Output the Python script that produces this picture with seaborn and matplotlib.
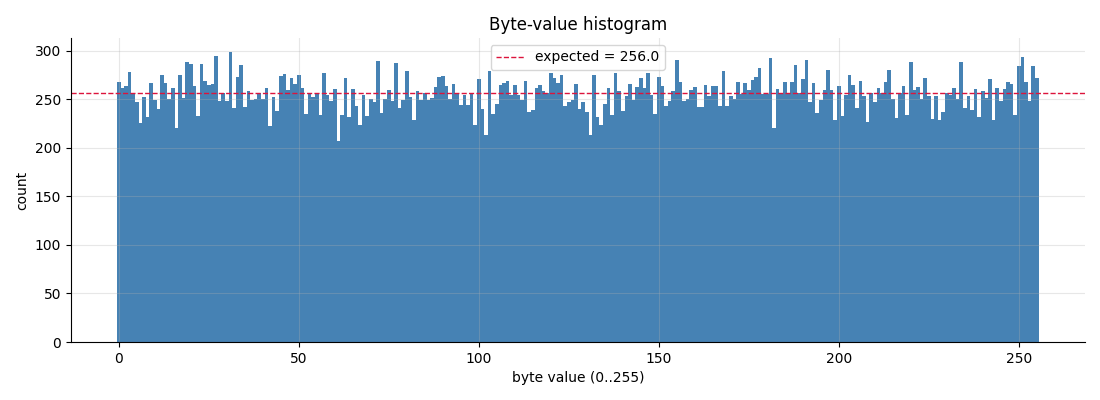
import numpy as np
import matplotlib
matplotlib.use("Agg")
import matplotlib.pyplot as plt
import seaborn as sns

# byte values 0..255 and how often each one showed up
byte_values = list(range(256))
counts = [
    268, 261, 263, 278, 256, 247, 225, 252, 232, 267, 249, 240, 275, 267, 250, 261,
    220, 275, 251, 288, 286, 263, 233, 286, 269, 265, 266, 294, 248, 256, 248, 298,
    241, 273, 285, 242, 258, 249, 250, 256, 250, 261, 222, 252, 238, 274, 276, 259,
    272, 266, 275, 261, 235, 255, 252, 255, 234, 277, 254, 248, 260, 207, 234, 272,
    232, 260, 243, 223, 254, 233, 250, 247, 289, 236, 250, 259, 248, 287, 241, 249,
    279, 252, 228, 258, 249, 256, 249, 251, 262, 273, 274, 264, 250, 266, 255, 244,
    254, 244, 256, 223, 271, 240, 213, 279, 235, 245, 265, 267, 269, 254, 265, 254,
    249, 269, 237, 239, 261, 265, 258, 256, 277, 272, 267, 275, 243, 247, 249, 266,
    240, 247, 237, 213, 275, 232, 223, 245, 261, 234, 277, 258, 238, 253, 266, 249,
    262, 272, 261, 277, 254, 235, 273, 264, 243, 248, 258, 290, 268, 248, 250, 259,
    262, 242, 242, 265, 253, 264, 264, 243, 279, 243, 253, 250, 268, 255, 267, 259,
    270, 273, 282, 255, 255, 292, 220, 260, 256, 268, 256, 268, 285, 256, 271, 290,
    247, 267, 236, 249, 259, 280, 259, 229, 263, 233, 254, 275, 265, 241, 269, 253,
    226, 256, 247, 261, 256, 268, 280, 250, 231, 256, 264, 234, 288, 259, 262, 250,
    272, 253, 230, 253, 228, 237, 256, 254, 261, 250, 288, 241, 253, 239, 260, 232,
    258, 251, 271, 229, 261, 248, 260, 268, 266, 234, 284, 293, 268, 248, 284, 272,
]
expected = 256.0

fig, ax = plt.subplots(figsize=(11, 4), dpi=100)

sns.histplot(x=byte_values, weights=counts, discrete=True,
             color="steelblue", alpha=1, linewidth=0, ax=ax)
ax.axhline(expected, color="crimson", linestyle="--", linewidth=1,
           label=f"expected = {expected}")

ax.set_title("Byte-value histogram")
ax.set_xlabel("byte value (0..255)")
ax.set_ylabel("count")
ax.grid(True, alpha=0.3)
ax.legend(loc="upper center")
sns.despine(ax=ax)

plt.subplots_adjust(left=0.0645, right=0.986, top=0.905, bottom=0.145)
plt.savefig("out.png")
